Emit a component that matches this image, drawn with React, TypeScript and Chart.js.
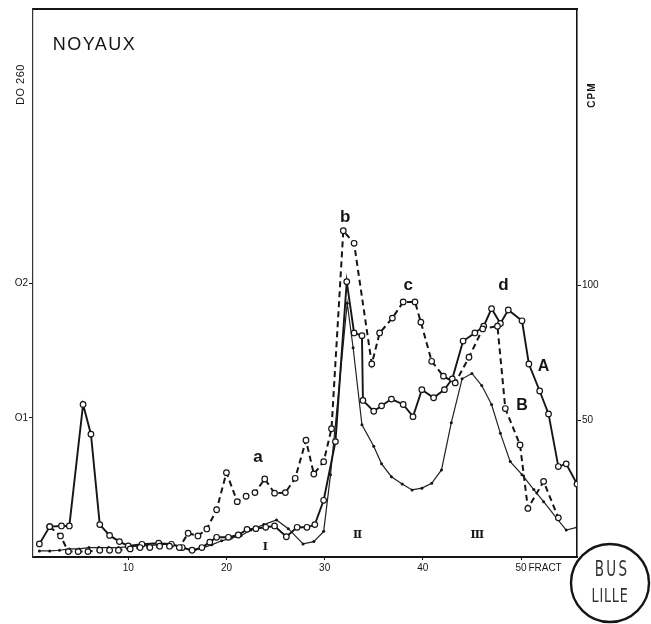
import React, { useEffect, useRef } from "react";
import { Chart, registerables } from "chart.js";

Chart.register(...registerables);

// ---- axis ticks ----
const xTicks = [10, 20, 30, 40, 50];
const xTickLabels = ["10", "20", "30", "40", "50"];
const doTicks = [0.1, 0.2];
const doTickLabels = ["O1", "O2"];
const cpmTicks = [50, 100];
const cpmTickLabels = ["50", "100"];

// ---- curve A (solid, open circles) : fraction / DO 260 ----
const fracA = [0.95, 2.0, 3.2, 4.0, 5.4, 6.2, 7.1, 8.1, 9.1, 10.0, 11.4, 13.1, 14.4, 15.5, 16.5, 17.5, 18.3, 19.0, 20.2, 21.2, 22.1, 23.0, 24.0, 24.9, 26.1, 27.2, 28.2, 29.0, 29.9, 31.1, 32.25, 33.0, 33.8, 33.9, 35.0, 35.8, 36.8, 38.0, 39.0, 39.9, 41.1, 42.2, 43.0, 44.1, 45.3, 46.2, 47.0, 47.9, 48.7, 50.1, 50.8, 51.9, 52.8, 53.8, 54.6, 55.7];
const doA = [0.0067, 0.0195, 0.02, 0.02, 0.11, 0.088, 0.021, 0.013, 0.0084, 0.0052, 0.0064, 0.0072, 0.0064, 0.004, 0.002, 0.004, 0.008, 0.0116, 0.0116, 0.0133, 0.0175, 0.018, 0.019, 0.02, 0.012, 0.019, 0.019, 0.021, 0.039, 0.0825, 0.201, 0.163, 0.161, 0.113, 0.105, 0.109, 0.114, 0.11, 0.101, 0.121, 0.115, 0.121, 0.129, 0.157, 0.163, 0.168, 0.181, 0.17, 0.18, 0.172, 0.14, 0.12, 0.103, 0.064, 0.066, 0.051];

// ---- curve B (thin solid, small dots) ----
const fracB = [0.95, 2.0, 3.0, 4.0, 5.0, 6.0, 7.0, 8.0, 9.0, 10.0, 11.0, 12.0, 13.0, 14.0, 15.4, 16.5, 17.6, 18.5, 19.5, 20.5, 21.5, 22.5, 23.8, 25.1, 26.3, 27.8, 28.9, 29.9, 30.6, 32.3, 32.9, 33.8, 35.0, 35.8, 36.8, 37.9, 38.9, 39.9, 40.9, 41.9, 42.9, 44.0, 45.0, 46.0, 47.0, 47.9, 48.9, 50.1, 51.3, 52.3, 53.6, 54.6, 55.7];
const doB = [0.0015, 0.0015, 0.002, 0.003, 0.003, 0.004, 0.004, 0.004, 0.004, 0.0047, 0.005, 0.0055, 0.006, 0.0065, 0.005, 0.001, 0.004, 0.006, 0.009, 0.011, 0.013, 0.017, 0.021, 0.0244, 0.018, 0.0067, 0.0084, 0.016, 0.058, 0.185, 0.152, 0.095, 0.079, 0.066, 0.0565, 0.051, 0.0467, 0.048, 0.0516, 0.0615, 0.0965, 0.129, 0.133, 0.124, 0.11, 0.0886, 0.0677, 0.058, 0.047, 0.038, 0.026, 0.017, 0.019];

// ---- dashed curve (open circles) ----
const fracD = [2.0, 3.1, 3.9, 4.9, 5.9, 7.1, 8.1, 9.0, 10.2, 11.2, 12.2, 13.2, 14.2, 15.2, 16.1, 17.1, 18.0, 19.0, 20.0, 21.1, 22.0, 22.9, 23.9, 24.9, 26.0, 27.0, 28.1, 28.9, 29.9, 30.7, 31.9, 33.0, 34.8, 35.6, 36.9, 38.0, 39.2, 39.8, 40.9, 42.1, 43.3, 44.7, 46.1, 47.6, 48.4, 49.9, 50.7, 52.3, 53.8];
const doD = [0.0195, 0.0126, 0.001, 0.001, 0.001, 0.002, 0.002, 0.002, 0.003, 0.004, 0.004, 0.005, 0.005, 0.004, 0.0146, 0.0126, 0.0178, 0.032, 0.0595, 0.038, 0.042, 0.0447, 0.0548, 0.0443, 0.0447, 0.0553, 0.0835, 0.0585, 0.0676, 0.092, 0.2387, 0.2294, 0.14, 0.163, 0.174, 0.186, 0.186, 0.171, 0.142, 0.131, 0.126, 0.145, 0.166, 0.168, 0.107, 0.08, 0.033, 0.053, 0.026];

// ---- annotations (anchored in data units) ----
const titleText = "NOYAUX";
const titleAt = [2.3, 0.376];
const peakLabels = ["a", "b", "c", "d"];
const peakFrac = [23.2, 32.1, 38.5, 48.2];
const peakDO = [0.071, 0.249, 0.1985, 0.1985];
const curveLabels = ["A", "B"];
const curveLabelFrac = [52.3, 50.1];
const curveLabelDO = [0.138, 0.109];
const zoneLabels = ["I", "II", "III"];
const zoneFrac = [23.9, 33.3, 45.5];
const zoneDO = [0.0044, 0.0133, 0.0133];
const leftTitle = "DO 260";
const leftTitleDO = 0.347;
const rightTitle = "CPM";
const rightTitleCPM = 170;
const xTitle = "FRACT";
const xTitleFrac = 50.75;
const stampLines = ["BUS", "LILLE"];

const INK = "#151515";
const SANS = "'Liberation Sans', 'DejaVu Sans', sans-serif";

const annotPlugin = {
  id: "annot",
  afterDraw(chart: any) {
    const { ctx, chartArea, scales } = chart;
    const x = scales.x;
    const y = scales.y;
    const y2 = scales.y2;
    ctx.save();
    ctx.fillStyle = INK;
    ctx.strokeStyle = INK;

    // title
    ctx.textAlign = "left";
    ctx.textBaseline = "middle";
    ctx.font = `18px ${SANS}`;
    (ctx as any).letterSpacing = "1.5px";
    ctx.fillText(titleText, x.getPixelForValue(titleAt[0]), y.getPixelForValue(titleAt[1]));
    (ctx as any).letterSpacing = "0px";

    // peak letters
    ctx.textAlign = "center";
    ctx.font = `bold 17px ${SANS}`;
    peakLabels.forEach((t, i) => {
      ctx.fillText(t, x.getPixelForValue(peakFrac[i]), y.getPixelForValue(peakDO[i]));
    });

    // curve letters
    ctx.font = `bold 16px ${SANS}`;
    curveLabels.forEach((t, i) => {
      ctx.fillText(t, x.getPixelForValue(curveLabelFrac[i]), y.getPixelForValue(curveLabelDO[i]));
    });

    // zone numerals
    ctx.font = `bold 11px 'DejaVu Serif', serif`;
    (ctx as any).letterSpacing = "-1px";
    zoneLabels.forEach((t, i) => {
      ctx.fillText(t, x.getPixelForValue(zoneFrac[i]), y.getPixelForValue(zoneDO[i]));
    });
    (ctx as any).letterSpacing = "0px";

    // left axis title (rotated)
    ctx.font = `11px ${SANS}`;
    ctx.save();
    ctx.translate(chartArea.left - 12, y.getPixelForValue(leftTitleDO));
    ctx.rotate(-Math.PI / 2);
    (ctx as any).letterSpacing = "0.5px";
    ctx.fillText(leftTitle, 0, 0);
    ctx.restore();

    // right axis title (rotated)
    ctx.font = `bold 10px ${SANS}`;
    ctx.save();
    ctx.translate(chartArea.right + 15, y2.getPixelForValue(rightTitleCPM));
    ctx.rotate(-Math.PI / 2);
    (ctx as any).letterSpacing = "1px";
    ctx.fillText(rightTitle, 0, 0);
    ctx.restore();
    (ctx as any).letterSpacing = "0px";

    // x axis title
    ctx.textAlign = "left";
    ctx.font = `10px ${SANS}`;
    ctx.fillText(xTitle, x.getPixelForValue(xTitleFrac), chartArea.bottom + 11);

    // library stamp
    const cx = chartArea.right + 33;
    const cy = chartArea.bottom + 26;
    ctx.lineWidth = 2.4;
    ctx.beginPath();
    ctx.arc(cx, cy, 39, 0, Math.PI * 2);
    ctx.stroke();
    ctx.fillStyle = "#333";
    ctx.textAlign = "center";
    ctx.save();
    ctx.translate(cx + 2, cy - 13);
    ctx.scale(0.75, 1.2);
    ctx.font = `18px 'DejaVu Sans', sans-serif`;
    (ctx as any).letterSpacing = "3px";
    ctx.fillText(stampLines[0], 0, 0);
    ctx.restore();
    ctx.save();
    ctx.translate(cx, cy + 14);
    ctx.scale(0.75, 1.15);
    ctx.font = `17px 'DejaVu Sans', sans-serif`;
    (ctx as any).letterSpacing = "1px";
    ctx.fillText(stampLines[1], 0, 0);
    ctx.restore();

    ctx.restore();
  },
};

function pts(xs: number[], ys: number[]) {
  return xs.map((v, i) => ({ x: v, y: ys[i] }));
}

export default function App() {
  const ref = useRef<HTMLCanvasElement>(null);

  useEffect(() => {
    const tickFont = { size: 10, family: SANS };
    const chart = new Chart(ref.current as HTMLCanvasElement, {
      type: "line",
      data: {
        datasets: [
          {
            label: "dashed",
            data: pts(fracD, doD),
            xAxisID: "x",
            yAxisID: "y",
            borderColor: INK,
            borderWidth: 2,
            borderDash: [6, 4],
            pointRadius: 2.8,
            pointBackgroundColor: "#fff",
            pointBorderColor: INK,
            pointBorderWidth: 1.2,
            tension: 0,
          },
          {
            label: "A",
            data: pts(fracA, doA),
            xAxisID: "x",
            yAxisID: "y",
            borderColor: INK,
            borderWidth: 1.9,
            pointRadius: 2.8,
            pointBackgroundColor: "#fff",
            pointBorderColor: INK,
            pointBorderWidth: 1.2,
            tension: 0,
          },
          {
            label: "B",
            data: pts(fracB, doB),
            xAxisID: "x",
            yAxisID: "y",
            borderColor: "#222",
            borderWidth: 1.2,
            pointRadius: 1.5,
            pointBackgroundColor: INK,
            pointBorderWidth: 0,
            tension: 0,
          },
        ],
      },
      options: {
        animation: false,
        responsive: false,
        layout: { padding: 0 },
        plugins: { legend: { display: false }, tooltip: { enabled: false } },
        scales: {
          x: {
            type: "linear",
            position: "bottom",
            min: 0.3,
            max: 55.7,
            afterBuildTicks: (s: any) => {
              s.ticks = xTicks.map((v) => ({ value: v }));
            },
            afterFit: (s: any) => {
              s.height = 67;
            },
            ticks: {
              autoSkip: false,
              maxRotation: 0,
              padding: 2,
              color: INK,
              font: tickFont,
              callback: (_v: any, i: number) => xTickLabels[i],
            },
            grid: { drawOnChartArea: false, drawTicks: true, tickLength: 3, color: INK },
            border: { display: true, color: INK, width: 2 },
          },
          xTop: {
            type: "linear",
            position: "top",
            min: 0.3,
            max: 55.7,
            ticks: { display: false },
            grid: { display: false },
            border: { display: true, color: INK, width: 2 },
            afterFit: (s: any) => {
              s.height = 9;
            },
          },
          y: {
            type: "linear",
            position: "left",
            min: -0.003,
            max: 0.403,
            afterBuildTicks: (s: any) => {
              s.ticks = doTicks.map((v) => ({ value: v }));
            },
            afterFit: (s: any) => {
              s.width = 33;
            },
            ticks: {
              padding: 1,
              color: INK,
              font: tickFont,
              callback: (_v: any, i: number) => doTickLabels[i],
            },
            grid: { drawOnChartArea: false, tickLength: 4, color: INK },
            border: { display: true, color: "#333", width: 1.2 },
          },
          y2: {
            type: "linear",
            position: "right",
            min: -0.2,
            max: 201.7,
            afterBuildTicks: (s: any) => {
              s.ticks = cpmTicks.map((v) => ({ value: v }));
            },
            afterFit: (s: any) => {
              s.width = 74;
            },
            ticks: {
              padding: 1,
              color: INK,
              font: tickFont,
              callback: (_v: any, i: number) => cpmTickLabels[i],
            },
            grid: { drawOnChartArea: false, tickLength: 4, color: INK },
            border: { display: true, color: INK, width: 1.6 },
          },
        },
      },
      plugins: [annotPlugin],
    });
    return () => chart.destroy();
  }, []);

  return (
    <div style={{ position: "fixed", left: 0, top: 0, width: 651, height: 624, background: "#fff" }}>
      <canvas ref={ref} width={651} height={624} style={{ display: "block" }} />
    </div>
  );
}
